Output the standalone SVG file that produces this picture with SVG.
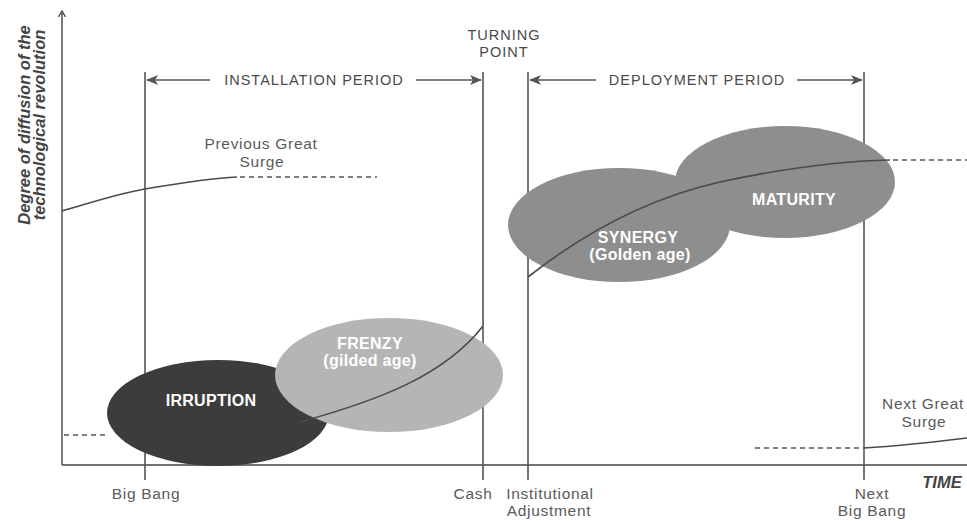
<svg xmlns="http://www.w3.org/2000/svg" width="967" height="521" viewBox="0 0 967 521">
  <defs>
    <marker id="head" viewBox="0 0 12 10" refX="11" refY="5" markerWidth="12" markerHeight="10" markerUnits="userSpaceOnUse" orient="auto-start-reverse">
      <path d="M0,0 L12,5 L0,10 L3,5 Z" fill="#555"/>
    </marker>
    <marker id="axisHead" viewBox="0 0 8 8" refX="4" refY="4" markerWidth="8" markerHeight="8" markerUnits="userSpaceOnUse" orient="auto">
      <path d="M0,0.5 L6,4 L0,7.5" fill="none" stroke="#444" stroke-width="1.3"/>
    </marker>
    <style>
      .axis { stroke: #444; stroke-width: 1.4; fill: none; }
      .guide { stroke: #555; stroke-width: 1.6; fill: none; }
      .span { stroke: #555; stroke-width: 1.4; fill: none; }
      .curve { stroke: #4a4a4a; stroke-width: 1.6; fill: none; }
      .dash { stroke: #555; stroke-width: 1.4; fill: none; stroke-dasharray: 5 4; }
      .lbl { font-family: "Liberation Sans", Arial, sans-serif; font-size: 15.5px; letter-spacing: 0.7px; fill: #5a5a5a; text-anchor: middle; }
      .cap { font-family: "Liberation Sans", Arial, sans-serif; font-size: 14.5px; fill: #4a4a4a; text-anchor: middle; letter-spacing: 1px; }
      .phase { font-family: "Liberation Sans", Arial, sans-serif; font-size: 16px; letter-spacing: 0.3px; font-weight: bold; fill: #fff; text-anchor: middle; }
      .axlbl { font-family: "Liberation Sans", Arial, sans-serif; font-size: 16.5px; font-weight: bold; font-style: italic; fill: #444; text-anchor: middle; }
    </style>
  </defs>

  <rect width="967" height="521" fill="#fff"/>

  <!-- axes -->
  <g id="axes">
    <line class="axis" x1="62" y1="465" x2="62" y2="13" marker-end="url(#axisHead)"/>
    <line class="axis" x1="62" y1="465" x2="967" y2="465"/>
    <text class="axlbl" transform="translate(30,125) rotate(-90)">Degree of diffusion of the</text>
    <text class="axlbl" transform="translate(45,125) rotate(-90)">technological revolution</text>
    <text class="axlbl" x="942" y="488">TIME</text>
  </g>

  <!-- time markers -->
  <g id="markers">
    <line class="guide" x1="145" y1="72" x2="145" y2="480"/>
    <line class="guide" x1="483" y1="72" x2="483" y2="480"/>
    <line class="guide" x1="528" y1="72" x2="528" y2="480"/>
    <line class="guide" x1="864" y1="72" x2="864" y2="480"/>
  </g>

  <!-- period spans -->
  <g id="installation-period">
    <line class="span" x1="210" y1="80" x2="147" y2="80" marker-end="url(#head)"/>
    <line class="span" x1="416" y1="80" x2="481" y2="80" marker-end="url(#head)"/>
    <text class="cap" x="314" y="85">INSTALLATION PERIOD</text>
  </g>
  <g id="deployment-period">
    <line class="span" x1="596" y1="80" x2="530" y2="80" marker-end="url(#head)"/>
    <line class="span" x1="797" y1="80" x2="862" y2="80" marker-end="url(#head)"/>
    <text class="cap" x="697" y="85">DEPLOYMENT PERIOD</text>
  </g>
  <g id="turning-point">
    <text class="cap" x="504" y="40">TURNING</text>
    <text class="cap" x="504" y="57">POINT</text>
  </g>

  <!-- phases -->
  <g id="irruption">
    <ellipse cx="218" cy="413" rx="111" ry="53" fill="#3c3c3c"/>
  </g>
  <g id="frenzy">
    <ellipse cx="389" cy="375" rx="114" ry="57" fill="#b5b5b5"/>
  </g>
  <g id="synergy">
    <ellipse cx="619" cy="225" rx="111" ry="57" fill="#8e8e8e"/>
  </g>
  <g id="maturity">
    <ellipse cx="785" cy="182" rx="110" ry="56" fill="#8e8e8e"/>
  </g>

  <!-- diffusion curves -->
  <g id="connectors">
    <path class="curve" d="M62,211 C90,203 120,193 145,189 C180,183 210,178 237,177"/>
    <line class="dash" x1="240" y1="177" x2="377" y2="177"/>
    <line class="dash" x1="64" y1="435" x2="108" y2="435"/>
    <path class="curve" d="M300,422 C380,400 445,375 483,326"/>
    <path class="curve" d="M528,277 C575,240 640,200 720,182 C790,167 840,161 890,160"/>
    <line class="dash" x1="893" y1="160" x2="967" y2="160"/>
    <line class="dash" x1="755" y1="448" x2="864" y2="448"/>
    <path class="curve" d="M864,448 C900,446 935,442 967,438"/>
  </g>

  <!-- phase labels -->
  <g id="phase-labels">
    <text class="phase" x="211" y="406">IRRUPTION</text>
    <text class="phase" x="370" y="349">FRENZY</text>
    <text class="phase" x="370" y="366">(gilded age)</text>
    <text class="phase" x="638" y="243">SYNERGY</text>
    <text class="phase" x="640" y="260">(Golden age)</text>
    <text class="phase" x="794" y="205">MATURITY</text>
  </g>

  <!-- surge labels -->
  <g id="surge-labels">
    <text class="lbl" x="261" y="149">Previous Great</text>
    <text class="lbl" x="262" y="167">Surge</text>
    <text class="lbl" x="923" y="409">Next Great</text>
    <text class="lbl" x="924" y="427">Surge</text>
  </g>

  <!-- time labels -->
  <g id="time-labels">
    <text class="lbl" x="146" y="499">Big Bang</text>
    <text class="lbl" x="473" y="499">Cash</text>
    <text class="lbl" x="550" y="499">Institutional</text>
    <text class="lbl" x="549" y="516">Adjustment</text>
    <text class="lbl" x="872" y="499">Next</text>
    <text class="lbl" x="872" y="516">Big Bang</text>
  </g>
</svg>
